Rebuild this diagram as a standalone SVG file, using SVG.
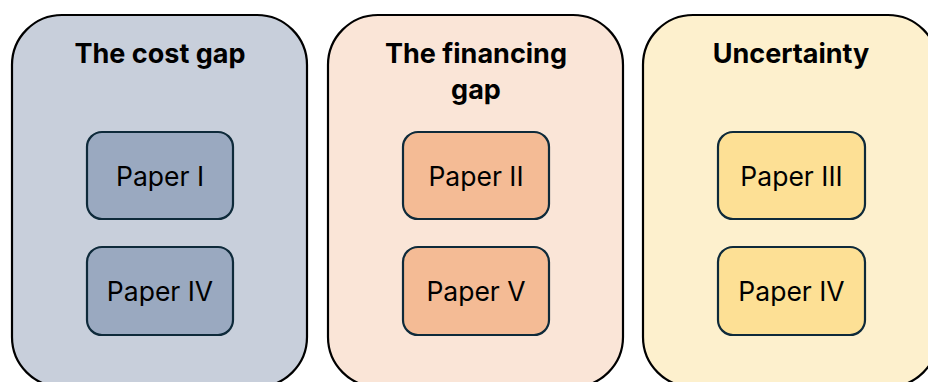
<svg xmlns="http://www.w3.org/2000/svg" width="928" height="382" viewBox="0 0 928 382">
  <style>
    .outer { stroke: #000; stroke-width: 2.2; }
    .inner { stroke: #0e2a3a; stroke-width: 2.2; }
    .title { font-family: Inter, "Open Sans", "Liberation Sans", sans-serif; font-weight: 700; font-size: 27px; fill: #000; text-anchor: middle; }
    .label { font-family: Inter, "Open Sans", "Liberation Sans", sans-serif; font-weight: 400; font-size: 26.5px; fill: #000; text-anchor: middle; dominant-baseline: central; }
    .c1 .outer { fill: #c8cfdb; } .c1 .inner { fill: #9aa9c0; }
    .c2 .outer { fill: #fae5d7; } .c2 .inner { fill: #f4bb95; }
    .c3 .outer { fill: #fdf0cd; } .c3 .inner { fill: #fde095; }
  </style>

  <!-- Column 1: the cost gap -->
  <g id="cost-gap" class="c1">
    <rect class="outer" x="12" y="15" width="295" height="372" rx="50" ry="50"/>
    <text class="title" x="160" y="63">The cost gap</text>
    <g id="cost-paper-1">
      <rect class="inner" x="87" y="132" width="146" height="87" rx="15" ry="15"/>
      <text class="label" x="160" y="176">Paper I</text>
    </g>
    <g id="cost-paper-4">
      <rect class="inner" x="87" y="247" width="146" height="88" rx="15" ry="15"/>
      <text class="label" x="160" y="291">Paper IV</text>
    </g>
  </g>

  <!-- Column 2: the financing gap -->
  <g id="financing-gap" class="c2">
    <rect class="outer" x="328" y="15" width="295" height="372" rx="50" ry="50"/>
    <text class="title" x="476" y="63">The financing</text>
    <text class="title" x="476" y="99">gap</text>
    <g id="financing-paper-2">
      <rect class="inner" x="403" y="132" width="146" height="87" rx="15" ry="15"/>
      <text class="label" x="476" y="176">Paper II</text>
    </g>
    <g id="financing-paper-5">
      <rect class="inner" x="403" y="247" width="146" height="88" rx="15" ry="15"/>
      <text class="label" x="476" y="291">Paper V</text>
    </g>
  </g>

  <!-- Column 3: uncertainty -->
  <g id="uncertainty" class="c3">
    <rect class="outer" x="643" y="15" width="295" height="372" rx="50" ry="50"/>
    <text class="title" x="791" y="63">Uncertainty</text>
    <g id="uncertainty-paper-3">
      <rect class="inner" x="718" y="132" width="147" height="87" rx="15" ry="15"/>
      <text class="label" x="791.5" y="176">Paper III</text>
    </g>
    <g id="uncertainty-paper-4">
      <rect class="inner" x="718" y="247" width="147" height="88" rx="15" ry="15"/>
      <text class="label" x="791.5" y="291">Paper IV</text>
    </g>
  </g>

  <!-- no connectors in this figure -->
  <g id="connectors"/>
</svg>
